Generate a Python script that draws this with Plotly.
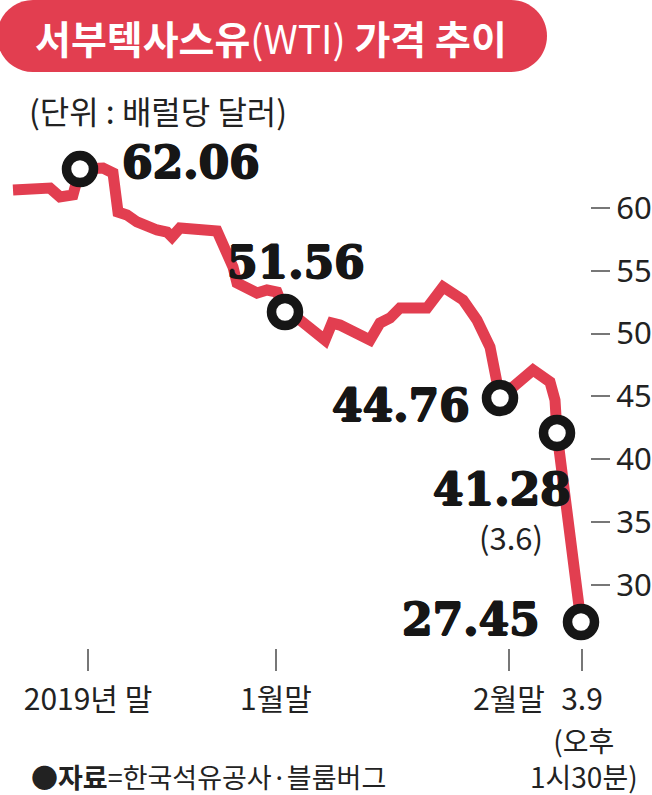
import plotly.graph_objects as go

# ---- data (x: position along the time axis; y: $/barrel) ----
line_x = [1.3, 5.0, 6.0, 7.3, 8.0, 10.3, 11.3, 11.8, 12.7, 13.7, 15.7, 16.7, 17.2, 18.0,
          21.7, 23.3, 23.7, 25.7, 26.7, 27.7, 28.5, 30.0, 32.5, 33.2, 34.0, 37.0, 38.0,
          39.0, 40.0, 42.7, 44.3, 46.3, 47.7, 49.0, 50.0, 51.7, 53.3, 55.0, 55.5, 55.7, 58.1]
line_y = [61.43, 61.59, 60.88, 61.04, 63.10, 63.18, 62.79, 59.68, 59.44, 58.89, 58.25, 58.09,
          57.69, 58.41, 58.17, 55.30, 54.03, 53.23, 53.47, 53.31, 51.72, 51.08, 49.49, 50.84,
          50.68, 49.49, 50.84, 51.24, 52.04, 52.04, 53.71, 52.68, 51.08, 48.93, 44.87, 46.07,
          47.10, 46.15, 44.71, 42.09, 27.04]

mark_x = [8.0, 28.5, 50.0, 55.7, 58.1]
mark_y = [63.10, 51.72, 44.87, 42.09, 27.04]
mark_labels = ["62.06", "51.56", "44.76", "41.28", "27.45"]

x_tickvals = [8.8, 27.6, 50.9, 58.2]
x_ticktext = ["2019년 말", "1월말", "2월말", "3.9"]
last_tick_note = ["(오후", "1시30분)"]
y_tickvals = [30, 35, 40, 45, 50, 55, 60]

title_text = "<b>서부텍사스유</b>(WTI) <b>가격 추이</b>"
unit_text = "(단위 : 배럴당 달러)"
source_text = "●<b>자료</b>=한국석유공사·블룸버그"

W, H = 652, 795
RED = "#E23E50"
INK = "#161616"
KR = "Noto Sans CJK KR"


def px(x):
    return x / W


def py(y):
    return 1 - y / H


fig = go.Figure()
fig.add_trace(go.Scatter(x=line_x, y=line_y, mode="lines",
                         line=dict(color=RED, width=11), hoverinfo="skip"))
fig.add_trace(go.Scatter(x=mark_x, y=mark_y, mode="markers",
                         marker=dict(symbol="circle", size=27, color="white",
                                     line=dict(color=INK, width=9.5)),
                         hoverinfo="skip"))

# pill behind title (rounded ends)
k = 0.5523
r = 36
x0, x1, y0, y1 = 33, 511, 0, 72
c = r * k
pts = (f"M {px(x0)},{py(y0)} L {px(x1)},{py(y0)} "
       f"C {px(x1 + c)},{py(y0)} {px(x1 + r)},{py(y0 + r - c)} {px(x1 + r)},{py(y0 + r)} "
       f"C {px(x1 + r)},{py(y0 + r + c)} {px(x1 + c)},{py(y1)} {px(x1)},{py(y1)} "
       f"L {px(x0)},{py(y1)} "
       f"C {px(x0 - c)},{py(y1)} {px(x0 - r)},{py(y1 - r + c)} {px(x0 - r)},{py(y1 - r)} "
       f"C {px(x0 - r)},{py(y0 + r - c)} {px(x0 - c)},{py(y0)} {px(x0)},{py(y0)} Z")
fig.add_shape(type="path", path=pts, xref="paper", yref="paper",
              fillcolor=RED, line=dict(width=0), layer="below")

ann = []
ann.append(dict(text=title_text, x=px(271), y=py(37), xref="paper", yref="paper",
                xanchor="center", yanchor="middle", showarrow=False,
                font=dict(family=KR, size=39, color="white")))
ann.append(dict(text=unit_text, x=px(27), y=py(110), xref="paper", yref="paper",
                xanchor="left", yanchor="middle", showarrow=False,
                font=dict(family=KR, size=32, color="#222")))
ann.append(dict(text=source_text, x=px(29), y=py(776), xref="paper", yref="paper",
                xanchor="left", yanchor="middle", showarrow=False,
                font=dict(family=KR, size=27, color="#222")))
# continuation lines of the last x tick label (one two-line text)
ann.append(dict(text="<br>".join(last_tick_note), x=x_tickvals[-1], y=py(758),
                xref="x", yref="paper", xanchor="center", yanchor="middle", align="center",
                xshift=2, showarrow=False, borderpad=0,
                font=dict(family=KR, size=28, color="#222")))

# value labels attached to the circled points
heavy = "0.9px 0 0 #161616, -0.9px 0 0 #161616, 0 0.9px 0 #161616, 0 -0.9px 0 #161616"
shifts = [("left", 40, 7), ("left", -60, 50), ("right", -28, -7), ("right", 16, -57), ("right", -39, 2)]
for (xa, dx, dy), xv, yv, t in zip(shifts, mark_x, mark_y, mark_labels):
    ann.append(dict(text=t, x=xv, y=yv, xref="x", yref="y", xanchor=xa, yanchor="middle",
                    xshift=dx, yshift=dy, showarrow=False,
                    font=dict(family="DejaVu Serif", size=44, color=INK, weight="bold",
                              shadow=heavy)))
ann.append(dict(text="(3.6)", x=mark_x[3], y=mark_y[3], xref="x", yref="y",
                xanchor="center", yanchor="middle", xshift=-46, yshift=-104, showarrow=False,
                font=dict(family=KR, size=31, color="#222")))

# axis ranges so that 1 unit of x = 10 px and y matches the reference scale
y_per_px = 1 / 12.56
y_top = 60 + 208 * y_per_px
y_bot = 60 - (H - 208) * y_per_px

fig.update_layout(
    width=W, height=H, margin=dict(l=0, r=0, t=0, b=0, autoexpand=False),
    paper_bgcolor="white", plot_bgcolor="white", showlegend=False,
    annotations=ann,
    xaxis=dict(range=[0, W / 10], domain=[0, 1], anchor="free", position=py(648),
               showgrid=False, zeroline=False, showline=False, automargin=False,
               tickmode="array", tickvals=x_tickvals, ticktext=x_ticktext, tickangle=0,
               ticks="outside", ticklen=22, tickwidth=2, tickcolor="#777",
               ticklabelstandoff=3,
               tickfont=dict(family=KR, size=30, color="#222"), fixedrange=True),
    yaxis=dict(range=[y_bot, y_top], domain=[0, 1], anchor="free", position=px(590),
               side="right", showgrid=False, zeroline=False, showline=False, automargin=False,
               tickmode="array", tickvals=y_tickvals,
               ticks="outside", ticklen=19, tickwidth=2, tickcolor="#777",
               tickfont=dict(family="Noto Sans", size=31, color="#222"), fixedrange=True),
)

fig.write_html("out.html")
